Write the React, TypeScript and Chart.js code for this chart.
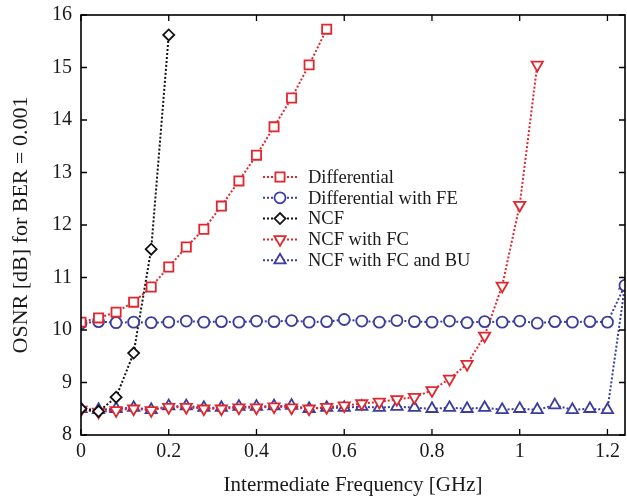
import React, { useEffect, useRef } from "react";
import { Chart, registerables } from "chart.js";
import { drawPoint } from "chart.js/helpers";

Chart.register(...registerables);

// ---- data ----
const freqDiff = [0, 0.04, 0.08, 0.12, 0.16, 0.2, 0.24, 0.28, 0.32, 0.36, 0.4, 0.44, 0.48, 0.52, 0.56];
const osnrDiff = [10.15, 10.23, 10.34, 10.53, 10.82, 11.2, 11.58, 11.92, 12.36, 12.84, 13.33, 13.87, 14.42, 15.05, 15.73];

const freqFull = [0, 0.04, 0.08, 0.12, 0.16, 0.2, 0.24, 0.28, 0.32, 0.36, 0.4, 0.44, 0.48, 0.52, 0.56, 0.6,
  0.64, 0.68, 0.72, 0.76, 0.8, 0.84, 0.88, 0.92, 0.96, 1.0, 1.04, 1.08, 1.12, 1.16, 1.2, 1.24];
const osnrDiffFE = [10.13, 10.16, 10.14, 10.15, 10.14, 10.15, 10.17, 10.15, 10.16, 10.15, 10.17, 10.16, 10.18, 10.15,
  10.16, 10.2, 10.17, 10.15, 10.18, 10.16, 10.15, 10.17, 10.14, 10.16, 10.15, 10.17, 10.13, 10.16, 10.15, 10.16, 10.15, 10.85];
const osnrFCBU = [8.5, 8.48, 8.5, 8.52, 8.48, 8.55, 8.55, 8.52, 8.52, 8.54, 8.54, 8.55, 8.56, 8.5, 8.52, 8.52,
  8.54, 8.52, 8.54, 8.52, 8.5, 8.52, 8.5, 8.52, 8.48, 8.5, 8.48, 8.57, 8.48, 8.5, 8.48, 10.85];

const freqNCF = [0, 0.04, 0.08, 0.12, 0.16, 0.2];
const osnrNCF = [8.5, 8.45, 8.72, 9.56, 11.54, 15.62];

const freqFC = [0, 0.04, 0.08, 0.12, 0.16, 0.2, 0.24, 0.28, 0.32, 0.36, 0.4, 0.44, 0.48, 0.52, 0.56, 0.6,
  0.64, 0.68, 0.72, 0.76, 0.8, 0.84, 0.88, 0.92, 0.96, 1.0, 1.04];
const osnrFC = [8.48, 8.44, 8.47, 8.5, 8.47, 8.53, 8.53, 8.5, 8.5, 8.52, 8.52, 8.54, 8.52, 8.5, 8.53, 8.56,
  8.6, 8.63, 8.68, 8.72, 8.85, 9.07, 9.35, 9.89, 10.84, 12.38, 15.05];

const xTicks = [0, 0.2, 0.4, 0.6, 0.8, 1, 1.2];
const yTicks = [8, 9, 10, 11, 12, 13, 14, 15, 16];

const RED = "#e2262d";
const BLUE = "#3a3d9e";
const BLACK = "#111111";
const SERIF = "'Liberation Serif', 'Times New Roman', serif";

const pts = (xs: number[], ys: number[]) => xs.map((x, i) => ({ x, y: ys[i] }));

const seriesDefs = [
  { label: "Differential", xs: freqDiff, ys: osnrDiff, color: RED, style: "rect", radius: 6.5, rotation: 0 },
  { label: "Differential with FE", xs: freqFull, ys: osnrDiffFE, color: BLUE, style: "circle", radius: 5.5, rotation: 0 },
  { label: "NCF", xs: freqNCF, ys: osnrNCF, color: BLACK, style: "rectRot", radius: 5.5, rotation: 0 },
  { label: "NCF with FC", xs: freqFC, ys: osnrFC, color: RED, style: "triangle", radius: 6.5, rotation: 180 },
  { label: "NCF with FC and BU", xs: freqFull, ys: osnrFCBU, color: BLUE, style: "triangle", radius: 6.5, rotation: 0 },
];

const boxPlugin = {
  id: "matlabBox",
  afterDatasetsDraw(chart: any) {
    const { ctx, chartArea: a, scales } = chart;
    ctx.save();
    ctx.strokeStyle = "#000";
    ctx.lineWidth = 1.6;
    ctx.setLineDash([]);
    ctx.strokeRect(a.left, a.top, a.right - a.left, a.bottom - a.top);
    ctx.lineWidth = 1.3;
    const L = 6;
    ctx.beginPath();
    xTicks.forEach((v) => {
      const px = scales.x.getPixelForValue(v);
      ctx.moveTo(px, a.bottom);
      ctx.lineTo(px, a.bottom - L);
      ctx.moveTo(px, a.top);
      ctx.lineTo(px, a.top + L);
    });
    yTicks.forEach((v) => {
      const py = scales.y.getPixelForValue(v);
      ctx.moveTo(a.left, py);
      ctx.lineTo(a.left + L, py);
      ctx.moveTo(a.right, py);
      ctx.lineTo(a.right - L, py);
    });
    ctx.stroke();

    // legend inside the plot
    const x0 = 263, x1 = 297, xm = 280, xt = 308;
    const y0 = 177, dy = 20.8;
    ctx.font = `18.5px ${SERIF}`;
    ctx.textBaseline = "middle";
    ctx.textAlign = "left";
    seriesDefs.forEach((s, i) => {
      const y = y0 + i * dy;
      ctx.strokeStyle = s.color;
      ctx.lineWidth = 2;
      ctx.setLineDash([2, 2]);
      ctx.beginPath();
      ctx.moveTo(x0, y);
      ctx.lineTo(x1, y);
      ctx.stroke();
      ctx.setLineDash([]);
      ctx.fillStyle = "#ffffff";
      ctx.strokeStyle = s.color;
      ctx.lineWidth = 1.8;
      drawPoint(ctx, { pointStyle: s.style, radius: s.radius, rotation: s.rotation, borderWidth: 1.8 } as any, xm, y);
      ctx.fillStyle = "#1a1a1a";
      ctx.fillText(s.label, xt, y + 1);
    });
    ctx.restore();
  },
};

export default function App() {
  const ref = useRef<HTMLCanvasElement | null>(null);
  useEffect(() => {
    if (!ref.current) return;
    const chart = new Chart(ref.current, {
      type: "scatter",
      data: {
        datasets: seriesDefs.map((s) => ({
          label: s.label,
          data: pts(s.xs, s.ys),
          showLine: true,
          borderColor: s.color,
          borderWidth: 2,
          borderDash: [2, 2],
          backgroundColor: "#ffffff",
          pointStyle: s.style as any,
          pointRadius: s.radius,
          pointRotation: s.rotation,
          pointBorderColor: s.color,
          pointBackgroundColor: "#ffffff",
          pointBorderWidth: 1.8,
          tension: 0,
        })),
      },
      options: {
        responsive: false,
        animation: false,
        devicePixelRatio: 1,
        layout: { autoPadding: false, padding: { left: 0, right: 2, top: 15, bottom: 0 } },
        plugins: { legend: { display: false }, tooltip: { enabled: false } },
        scales: {
          x: {
            type: "linear",
            min: 0,
            max: 1.24,
            afterBuildTicks: (sc: any) => {
              sc.ticks = xTicks.map((v) => ({ value: v }));
            },
            afterFit: (sc: any) => {
              sc.height = 65;
              sc.paddingLeft = 0;
              sc.paddingRight = 0;
              if (sc._margins) {
                sc._margins.left = 0;
                sc._margins.right = 0;
              }
            },
            ticks: {
              color: "#1a1a1a",
              font: { family: SERIF, size: 20 },
              padding: 5,
              maxRotation: 0,
              callback: (v: any) => String(v),
            },
            grid: { display: true, drawOnChartArea: false, drawTicks: false },
            border: { display: false },
            title: {
              display: true,
              text: "Intermediate Frequency [GHz]",
              color: "#1a1a1a",
              font: { family: SERIF, size: 21 },
              padding: { top: 0, bottom: 2 },
            },
          },
          y: {
            type: "linear",
            min: 8,
            max: 16,
            afterBuildTicks: (sc: any) => {
              sc.ticks = yTicks.map((v) => ({ value: v }));
            },
            afterFit: (sc: any) => {
              sc.width = 81;
              sc.paddingTop = 0;
              sc.paddingBottom = 0;
              if (sc._margins) {
                sc._margins.top = 0;
                sc._margins.bottom = 0;
              }
            },
            ticks: {
              color: "#1a1a1a",
              font: { family: SERIF, size: 20 },
              padding: 9,
            },
            grid: { display: true, drawOnChartArea: false, drawTicks: false },
            border: { display: false },
            title: {
              display: true,
              text: "OSNR [dB] for BER = 0.001",
              color: "#1a1a1a",
              font: { family: SERIF, size: 22 },
              padding: { top: 8, bottom: 0 },
            },
          },
        },
      },
      plugins: [boxPlugin],
    });
    return () => chart.destroy();
  }, []);
  return (
    <div style={{ position: "fixed", left: 0, top: 0, width: 627, height: 500, background: "#fff" }}>
      <canvas ref={ref} width={627} height={500} style={{ display: "block" }} />
    </div>
  );
}
